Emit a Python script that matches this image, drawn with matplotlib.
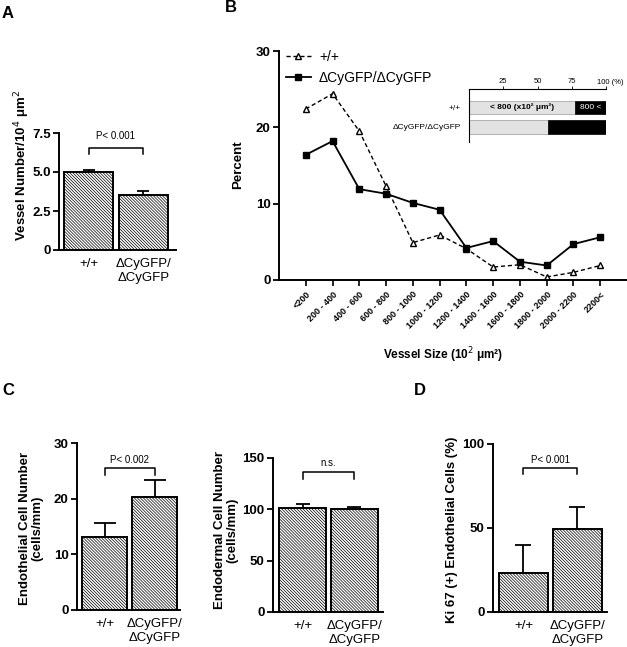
import matplotlib
matplotlib.use("Agg")
import matplotlib.pyplot as plt
import numpy as np

plt.rcParams['font.family'] = ['Liberation Sans', 'DejaVu Sans']
plt.rcParams['hatch.linewidth'] = 0.5

# ---------------- data ----------------
groups = ['+/+', 'ΔCyGFP/\nΔCyGFP']

a_vals = [5.03, 3.52]
a_err = [0.10, 0.28]

b_cats = ['<200', '200 - 400', '400 - 600', '600 - 800', '800 - 1000', '1000 - 1200',
          '1200 - 1400', '1400 - 1600', '1600 - 1800', '1800 - 2000', '2000 - 2200', '2200<']
b_wt = [22.4, 24.4, 19.5, 12.3, 4.9, 5.9, 4.1, 1.7, 2.0, 0.4, 1.0, 1.9]
b_ko = [16.4, 18.2, 11.9, 11.3, 10.1, 9.2, 4.2, 5.1, 2.4, 1.9, 4.7, 5.6]

inset_groups = ['+/+', 'ΔCyGFP/ΔCyGFP']
inset_small = [77.5, 57.5]
inset_large = [22.5, 42.5]
inset_ticks = [25, 50, 75, 100]
inset_ticklabels = ['25', '50', '75', '']

c1_vals = [13.2, 20.3]
c1_err = [2.5, 3.1]

c2_vals = [101, 100]
c2_err = [4, 2.5]

d_vals = [23, 49.4]
d_err = [17, 13]

W, H = 627, 647
fig = plt.figure(figsize=(W / 100, H / 100), dpi=100)


def rect(l, t, r, b):
    return [l / W, 1 - b / H, (r - l) / W, (b - t) / H]


def px(x, y):
    return x / W, 1 - y / H


def style(ax):
    for s in ['top', 'right']:
        ax.spines[s].set_visible(False)
    for s in ['left', 'bottom']:
        ax.spines[s].set_linewidth(1.4)
    ax.tick_params(axis='y', direction='out', length=4, width=1.3, labelsize=9.5, pad=2)
    for lab in ax.get_yticklabels():
        lab.set_fontweight('bold')


def barpanel(ax, vals, errs, ylim, yticks, ytlabels, xlim, capsize, bracket, ptext, ptext_y):
    x = np.arange(len(vals))
    ax.bar(x, vals, width=0.9, color='white', edgecolor='black', linewidth=1.4,
           hatch='\\' * 11, zorder=2)
    ax.errorbar(x, vals, yerr=[[0] * len(errs), errs], fmt='none', ecolor='black',
                elinewidth=1.3, capsize=capsize, capthick=1.3, zorder=1)
    ax.set_xlim(*xlim)
    ax.set_ylim(*ylim)
    ax.set_yticks(yticks)
    ax.set_yticklabels(ytlabels)
    ax.set_xticks(x)
    ax.set_xticklabels(groups, fontsize=9.5)
    ax.tick_params(axis='x', length=0, pad=6)
    style(ax)
    lo, hi = bracket
    ax.plot([0, 0, 1, 1], [lo, hi, hi, lo], color='black', lw=1.1, clip_on=False)
    ax.text(0.5, ptext_y, ptext, ha='center', va='center', fontsize=7)


# ---------------- Panel A ----------------
axA = fig.add_axes(rect(59, 133, 176, 250))
barpanel(axA, a_vals, a_err, (0, 7.5), [0, 2.5, 5.0, 7.5], ['0', '2.5', '5.0', '7.5'],
         (-0.54, 1.6), 4, (6.15, 6.55), 'P< 0.001', 7.3)
fig.text(*px(22, 165), 'Vessel Number/10$^{4}$ μm$^{2}$', rotation=90, ha='center', va='center',
         fontsize=9.5, fontweight='bold')

# ---------------- Panel B ----------------
axB = fig.add_axes(rect(279, 51, 627, 280))
xb = np.arange(len(b_cats))
axB.plot(xb, b_wt, linestyle=(0, (3, 2)), color='black', lw=1.0, marker='^', markersize=5,
         markerfacecolor='white', markeredgecolor='black', markeredgewidth=1.0, label='+/+')
axB.plot(xb, b_ko, linestyle='-', color='black', lw=1.3, marker='s', markersize=4.5,
         markerfacecolor='black', label='ΔCyGFP/ΔCyGFP')
axB.set_xlim(-1, 12)
axB.set_ylim(0, 30)
axB.set_yticks([0, 10, 20, 30])
axB.set_yticklabels(['0', '10', '20', '30'])
axB.set_xticks(xb)
axB.set_xticklabels(b_cats, rotation=45, ha='right', rotation_mode='anchor',
                    fontsize=6.5, fontweight='bold')
axB.tick_params(axis='x', direction='out', length=4, width=1.2, pad=3)
style(axB)
axB.spines['bottom'].set_bounds(-1, 12)
leg = axB.legend(loc='upper left', bbox_to_anchor=(-0.005, 1.04), frameon=False, fontsize=10,
                 handlelength=1.8, handletextpad=0.6, labelspacing=0.5, borderaxespad=0.2)
fig.text(*px(238, 165), 'Percent', rotation=90, ha='center', va='center',
         fontsize=9.5, fontweight='bold')
fig.text(*px(443, 355), 'Vessel Size (10$^{2}$ μm²)', ha='center', va='center',
         fontsize=8.5, fontweight='bold')

# inset
axI = fig.add_axes(rect(469, 89, 606, 142))
yi = np.arange(len(inset_groups))
axI.barh(yi, inset_small, height=0.69, color='#e2e2e2', edgecolor='#999999', linewidth=0.5)
axI.barh(yi, inset_large, left=inset_small, height=0.69, color='black', edgecolor='black',
         linewidth=0.5)
axI.set_xlim(0, 100)
axI.set_ylim(1.77, -0.95)
axI.set_yticks(yi)
axI.set_yticklabels(inset_groups, fontsize=6)
axI.tick_params(axis='y', length=0, pad=6)
axI.xaxis.tick_top()
axI.set_xticks(inset_ticks)
axI.set_xticklabels(inset_ticklabels, fontsize=5.5)
axI.tick_params(axis='x', length=2, width=0.6, pad=1)
for s in ['bottom', 'right']:
    axI.spines[s].set_visible(False)
axI.spines['top'].set_linewidth(0.8)
axI.spines['left'].set_linewidth(0.8)
fig.text(*px(597, 83), '100 (%)', ha='left', va='center', fontsize=5.5)
axI.text(inset_small[0] / 2, 0, '< 800 (x10² μm²)', ha='center', va='center', fontsize=6,
         fontweight='bold')
axI.text(inset_small[0] + inset_large[0] / 2, 0, '800 <', ha='center', va='center',
         fontsize=6, color='white')

# ---------------- Panel C1 ----------------
axC1 = fig.add_axes(rect(77, 443, 180, 610))
barpanel(axC1, c1_vals, c1_err, (0, 30), [0, 10, 20, 30], ['0', '10', '20', '30'],
         (-0.55, 1.51), 8, (24.3, 25.5), 'P< 0.002', 27.0)
fig.text(*px(31, 528), 'Endothelial Cell Number\n(cells/mm)', rotation=90, ha='center',
         va='center', multialignment='center', fontsize=9.5, fontweight='bold', linespacing=1.05)

# ---------------- Panel C2 ----------------
axC2 = fig.add_axes(rect(273, 458, 383, 612))
barpanel(axC2, c2_vals, c2_err, (0, 150), [0, 50, 100, 150], ['0', '50', '100', '150'],
         (-0.57, 1.55), 5, (130, 136), 'n.s.', 145)
fig.text(*px(226, 530), 'Endodermal Cell Number\n(cells/mm)', rotation=90, ha='center',
         va='center', multialignment='center', fontsize=9.5, fontweight='bold', linespacing=1.05)

# ---------------- Panel D ----------------
axD = fig.add_axes(rect(493, 444, 607, 612))
barpanel(axD, d_vals, d_err, (0, 100), [0, 50, 100], ['0', '50', '100'],
         (-0.565, 1.55), 5.5, (82, 85.7), 'P< 0.001', 90.5)
fig.text(*px(452, 530), 'Ki 67 (+) Endothelial Cells (%)', rotation=90, ha='center',
         va='center', fontsize=9.5, fontweight='bold')

# ---------------- panel letters ----------------
for letter, (x, y) in {'A': (8, 13), 'B': (231, 8), 'C': (8, 391), 'D': (420, 391)}.items():
    fig.text(*px(x, y), letter, ha='center', va='center', fontsize=12, fontweight='bold')

fig.savefig('out.png', dpi=100)
